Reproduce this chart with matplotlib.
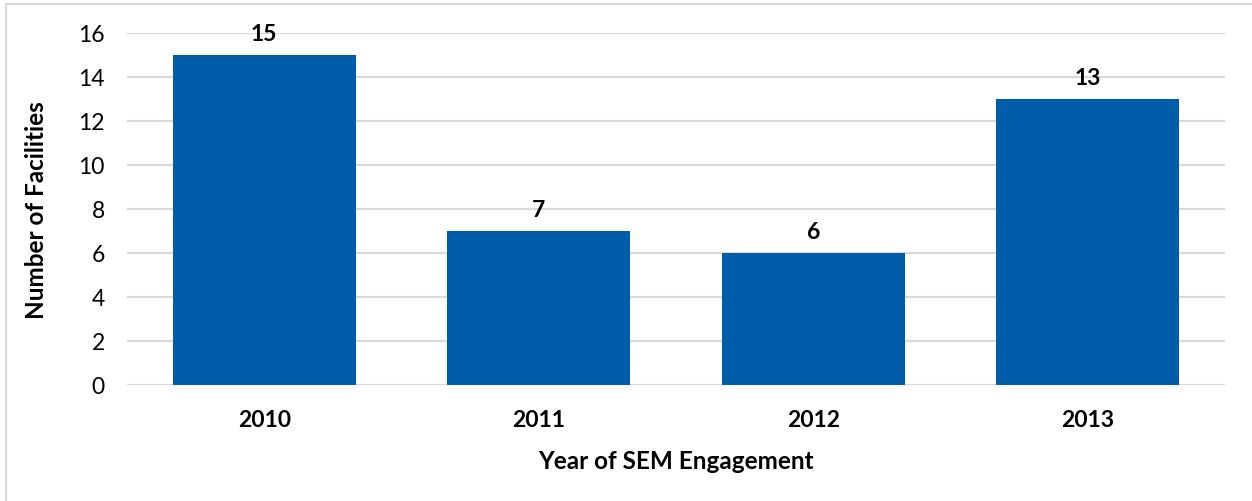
import matplotlib
matplotlib.use("Agg")
import matplotlib.pyplot as plt
from matplotlib.lines import Line2D

years = ["2010", "2011", "2012", "2013"]
facilities = [15, 7, 6, 13]
yticks = [0, 2, 4, 6, 8, 10, 12, 14, 16]

plt.rcParams['font.family'] = ['Lato', 'DejaVu Sans']

W, H = 1252, 502
fig = plt.figure(figsize=(W / 100, H / 100), dpi=100)
ax = fig.add_axes([127 / W, 1 - 386 / H, (1225 - 127) / W, (386 - 34) / H])

x = range(len(years))
ax.bar(x, facilities, width=0.667, color="#005DAA", zorder=3)
for xi, v in zip(x, facilities):
    ax.text(xi, v + 0.5, str(v), ha="center", va="bottom", fontsize=16.5, fontweight="bold", color="black")

ax.set_xlim(-0.5, len(years) - 0.5)
ax.set_ylim(0, 16)
ax.set_yticks(yticks)
ax.set_yticklabels([str(t) for t in yticks], fontsize=16.5)
ax.set_xticks(list(x))
ax.set_xticklabels(years, fontsize=16.5, fontweight="bold")
ax.tick_params(axis="y", length=0, pad=16)
ax.tick_params(axis="x", length=0, pad=17)
ax.grid(axis="y", color="#D9D9D9", linewidth=1.5, zorder=0)
for s in ax.spines.values():
    s.set_visible(False)

ax.set_xlabel("Year of SEM Engagement", fontsize=17.5, fontweight="bold", labelpad=14)
ax.set_ylabel("Number of Facilities", fontsize=17.5, fontweight="bold", labelpad=22)

# light frame around the chart area
fig.add_artist(Line2D([6 / W, 6 / W], [0, 1 - 5 / H], transform=fig.transFigure, color="#D9D9D9", lw=1.5))
fig.add_artist(Line2D([6 / W, 1], [1 - 5 / H, 1 - 5 / H], transform=fig.transFigure, color="#D9D9D9", lw=1.5))

fig.savefig("out.png", dpi=100)
